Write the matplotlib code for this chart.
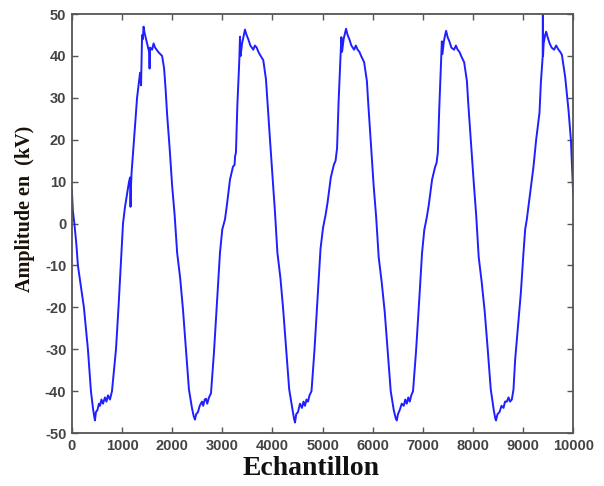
import matplotlib
matplotlib.use("Agg")
import matplotlib.pyplot as plt

plt.rcParams['axes.unicode_minus'] = False

# -----------------------------
# Data (sample index, amplitude in kV)
# -----------------------------

samples_c1 = [0, 20, 50, 90, 120, 180, 240, 280, 320, 350, 380, 420, 445, 460,
              480, 510, 540, 560, 590, 620, 660, 690, 720, 760, 800,
              840, 880, 930, 975, 1020, 1060, 1100, 1140, 1160, 1170, 1180,
              1190, 1240, 1270, 1300, 1330, 1340, 1360, 1380, 1400, 1415,
              1430, 1450, 1480, 1500, 1540, 1550, 1560, 1600, 1630, 1660,
              1690, 1720, 1760, 1800, 1840, 1870, 1900, 1950, 2000, 2050]
amp_c1 = [8, 3, 0, -5, -10, -15, -20, -25, -30, -35, -40, -44, -46, -47,
          -45, -44.5, -43, -43.5, -42, -43, -41.5, -42.5, -41, -42, -40,
          -35, -30, -20, -10, 0, 4, 7, 10, 11, 4, 9,
          12, 20, 25, 30, 33, 34, 36, 33, 45, 44,
          47, 45.5, 44, 43, 41, 37, 42, 41.5, 43, 42,
          41.5, 41, 40.5, 40, 37, 32, 26, 18, 9, 2]

samples_c2 = [2100, 2160, 2216, 2276, 2335, 2395, 2430, 2455, 2480, 2515,
              2550, 2595, 2620, 2650, 2675, 2700, 2735, 2775, 2834, 2894,
              2954, 3000, 3054, 3088, 3154, 3214, 3245, 3255, 3273, 3300,
              3340, 3353, 3365, 3395, 3430, 3453, 3485, 3519, 3560, 3619,
              3650, 3687, 3720, 3752, 3818, 3872, 3898, 3952, 4006, 4052]
amp_c2 = [-7, -13, -20.5, -30, -39.6, -44, -46, -46.8, -45.5, -45,
          -43.5, -42.5, -43.5, -42, -41.8, -43, -41.5, -40.5, -30.8, -19,
          -7, -1.4, 1, 4, 10.5, 13.6, 14, 16, 17, 28,
          39, 44.6, 40, 43, 45, 46.3, 45, 44, 42.5, 41.5,
          42.5, 42, 41, 40.3, 39, 34.4, 29.6, 20, 10.5, 2.6]

samples_c3 = [4100, 4160, 4215, 4275, 4335, 4395, 4430, 4451, 4475, 4510,
              4550, 4590, 4620, 4650, 4680, 4710, 4740, 4780, 4840, 4900,
              4960, 5010, 5060, 5100, 5165, 5225, 5260, 5270, 5290, 5320,
              5360, 5375, 5390, 5420, 5450, 5469, 5500, 5535, 5575, 5630,
              5665, 5700, 5735, 5770, 5830, 5885, 5910, 5965, 6020, 6070]
amp_c3 = [-7, -13, -20.5, -30, -39.6, -44, -46.5, -47.5, -45.5, -45,
          -43, -44, -42.5, -43.5, -42, -42.5, -41, -40, -30, -18,
          -6, -1, 2, 5, 11, 14, 15, 16, 18, 29,
          40, 44.5, 41, 44, 45.5, 46.5, 45, 44, 42.5, 41.5,
          42.5, 41.5, 41, 40, 38.5, 34, 29, 19, 9, 1.5]

samples_c4 = [6120, 6180, 6240, 6300, 6360, 6420, 6460, 6481, 6505, 6540,
              6580, 6620, 6650, 6680, 6710, 6740, 6770, 6805, 6865, 6925,
              6985, 7030, 7080, 7120, 7185, 7245, 7275, 7285, 7300, 7330,
              7365, 7380, 7392, 7420, 7445, 7465, 7495, 7530, 7570, 7625,
              7660, 7695, 7730, 7765, 7825, 7880, 7905, 7960, 8015, 8065]
amp_c4 = [-8, -14, -21, -30.5, -40, -44.5, -46.5, -47, -45.5, -44.5,
          -43, -43.5, -42, -43, -41.5, -42.5, -41, -40, -30.5, -19,
          -7, -1.5, 1.5, 4.5, 10.5, 13.5, 14.5, 15.5, 17, 28,
          39, 43.5, 40.5, 43.5, 45, 46, 44.5, 43.5, 42, 41.5,
          42.5, 41.5, 41, 40, 38.5, 34, 29, 19.5, 10, 2]

samples_c5 = [8115, 8175, 8235, 8295, 8355, 8415, 8445, 8460, 8490, 8530,
              8570, 8610, 8640, 8676, 8710, 8740, 8776, 8809, 8842, 8909,
              8956, 9008, 9042, 9075, 9142, 9208, 9261, 9328, 9355, 9380,
              9392, 9395, 9398, 9410, 9440, 9461, 9490, 9530, 9570, 9620,
              9660, 9707, 9740, 9774, 9840, 9907, 9954, 9994, 10000]
amp_c5 = [-8, -14, -21, -30, -39.5, -44.5, -46.5, -47, -45.5, -45,
          -43.5, -44, -42.5, -42.5, -41.5, -42.5, -42, -39.6, -32.5, -23,
          -16.5, -7, -1.4, 1, 7.4, 13.6, 20, 26.5, 33.6, 38,
          40, 55, 40, 43, 45, 45.8, 44.5, 43, 42, 41.5,
          42.5, 41.5, 41, 40.3, 35, 27, 20, 8.8, 7]

samples = samples_c1 + samples_c2 + samples_c3 + samples_c4 + samples_c5
amplitude = amp_c1 + amp_c2 + amp_c3 + amp_c4 + amp_c5

x_ticks = [0, 1000, 2000, 3000, 4000, 5000, 6000, 7000, 8000, 9000, 10000]
y_ticks = [-50, -40, -30, -20, -10, 0, 10, 20, 30, 40, 50]

# -----------------------------
# Plot
# -----------------------------

fig = plt.figure(figsize=(6.04, 4.86), dpi=100)
ax = fig.add_axes([0.119, 0.109, 0.83, 0.862])

ax.plot(samples, amplitude, color="#1f1fff", linewidth=1.4)

ax.set_xlim(0, 10000)
ax.set_ylim(-50, 50)
ax.set_xticks(x_ticks)
ax.set_yticks(y_ticks)

for side in ["left", "right", "top", "bottom"]:
    ax.spines[side].set_color("#555555")
    ax.spines[side].set_linewidth(1.3)

ax.tick_params(direction="in", length=4, width=1, color="#555555",
               top=True, right=True, labelsize=10.5, labelcolor="#444444", pad=4)
for lab in ax.get_xticklabels() + ax.get_yticklabels():
    lab.set_fontfamily("Liberation Sans")
    lab.set_fontweight("bold")

ax.set_xlabel("Echantillon", fontfamily="Liberation Serif", fontweight="bold",
              fontsize=20, color="#111111")
ax.xaxis.set_label_coords(0.477, -0.055)
ax.set_ylabel("Amplitude en  (kV)", fontfamily="Liberation Serif",
              fontweight="bold", fontsize=14.5, color="#1a1208")
ax.yaxis.set_label_coords(-0.074, 0.535)

fig.savefig("out.png", dpi=100, facecolor="white")
